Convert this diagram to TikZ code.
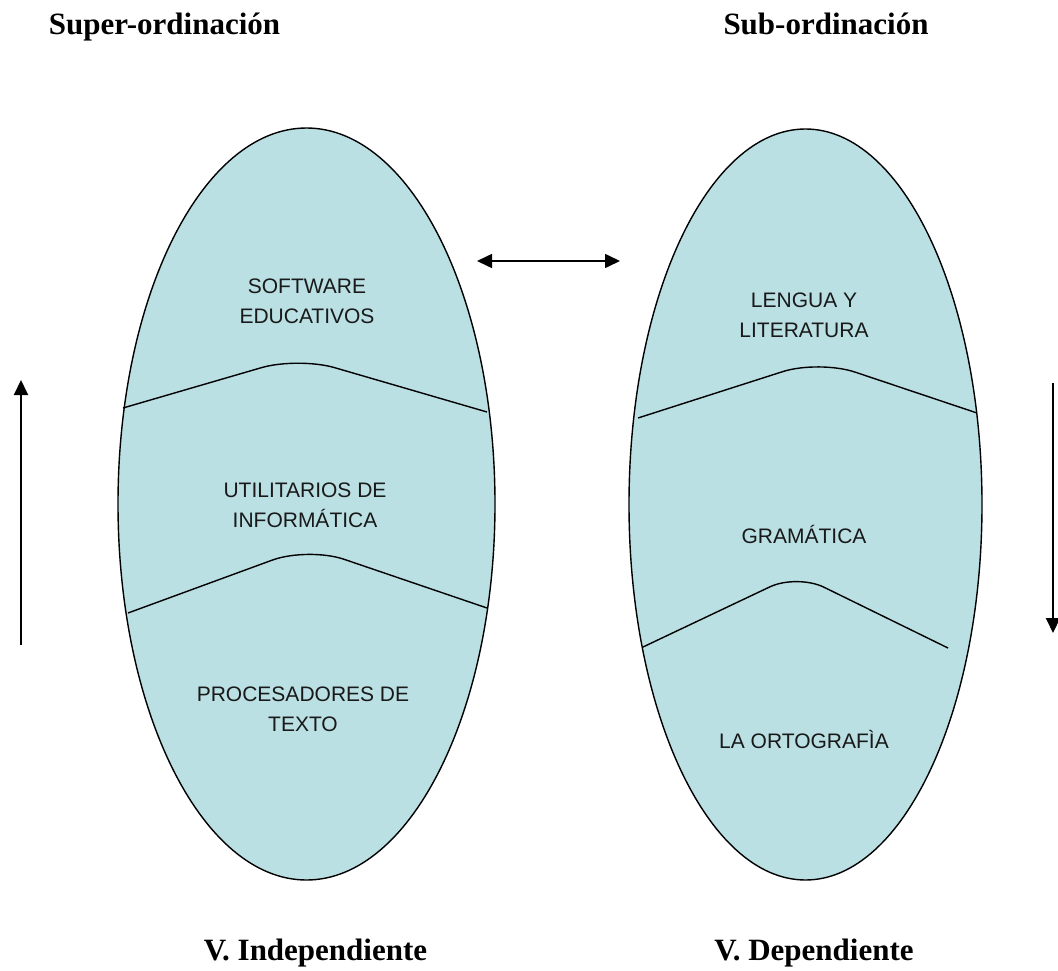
\documentclass[tikz,border=0pt]{standalone}
\usepackage{fontspec}
\setmainfont{Liberation Serif}
\newfontfamily\ovalfont{Liberation Sans}
\usetikzlibrary{shapes.geometric,arrows.meta}

\definecolor{ovalfill}{RGB}{186,224,228}

\tikzset{
	oval/.style={ellipse,draw=black,line width=1.4pt,fill=ovalfill,inner sep=0pt},
	divider/.style={line width=1.4pt,rounded corners=38pt},
	ovaltext/.style={font=\ovalfont\fontsize{21}{30}\selectfont,align=center,text=black!90},
	title/.style={font=\bfseries\fontsize{31}{36}\selectfont,anchor=base},
}

\begin{document}
\begin{tikzpicture}[x=1pt,y=-1pt,>={Triangle[length=15pt,width=14pt]}]
	\useasboundingbox (0,0) rectangle (1058,971);

	\node[title] (super) at (164.5,35) {Super-ordinación};
	\node[title] (sub) at (826,35) {Sub-ordinación};

	\node[oval,minimum width=377pt,minimum height=752pt] (left) at (306.5,504) {};
	\node[oval,minimum width=353pt,minimum height=751pt] (right) at (805.5,504.5) {};

	\draw[divider] (123,408) -- (298,357) -- (487,412);
	\draw[divider] (128,613) -- (308,547) -- (487,608);
	\draw[divider] (638,418) -- (819,360) -- (977,413);
	\draw[divider,rounded corners=30pt] (643,647) -- (797,574) -- (948,648);

	\node[ovaltext] (soft) at (307,301) {SOFTWARE\\EDUCATIVOS};
	\node[ovaltext] (util) at (305,505.5) {UTILITARIOS DE\\INFORMÁTICA};
	\node[ovaltext] (proc) at (303,709) {PROCESADORES DE\\TEXTO};
	\node[ovaltext] (leng) at (804,315.5) {LENGUA Y\\LITERATURA};
	\node[ovaltext,anchor=base] (gram) at (804,543) {GRAMÁTICA};
	\node[ovaltext,anchor=base] (orto) at (804,748) {LA ORTOGRAFÌA};

	\node[title] (indep) at (315.5,960) {V. Independiente};
	\node[title] (dep) at (814,960) {V. Dependiente};

	\coordinate (upfrom) at (21,645);
	\coordinate (upto) at (21,380);
	\coordinate (downfrom) at (1053,383);
	\coordinate (downto) at (1053,633);
	\coordinate (linkl) at (477,261);
	\coordinate (linkr) at (620,261);

	\draw[line width=2pt,->] (upfrom) -- (upto);
	\draw[line width=2pt,->] (downfrom) -- (downto);
	\draw[line width=1.6pt,<->] (linkl) -- (linkr);
\end{tikzpicture}
\end{document}
